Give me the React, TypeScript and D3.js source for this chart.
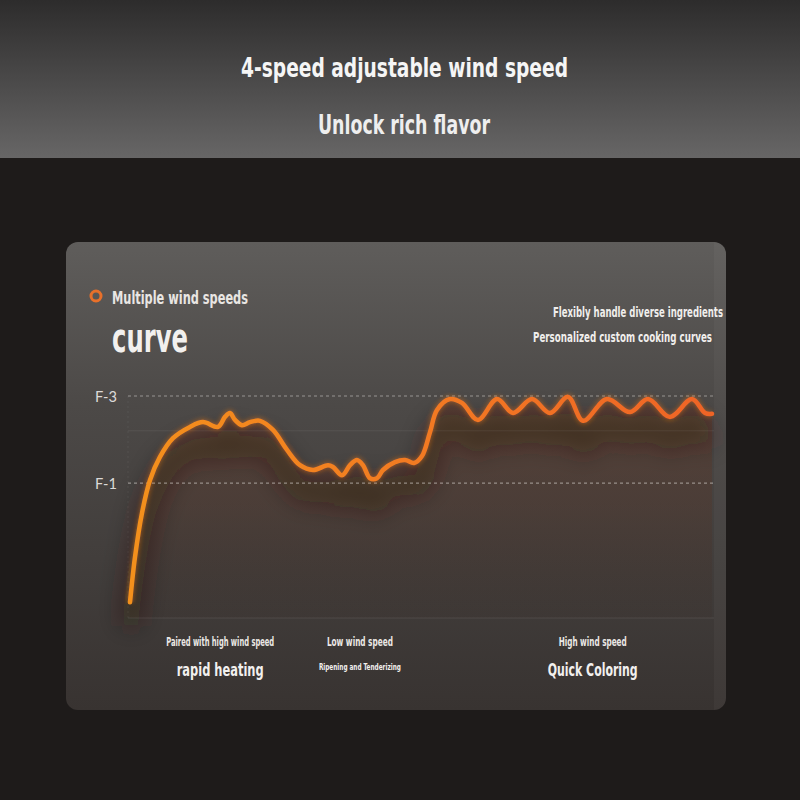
import React from "react";
import * as d3 from "d3";

// ---- data (time in % of cooking cycle, value in fan-speed level) ----
const times = [0, 0.86, 2.06, 3.44, 5.15, 7.39, 10.31, 12.54, 15.12, 16.32, 17.18, 18.04, 19.24, 20.62, 22.34, 24.57, 26.98, 29.21, 31.44, 34.02, 34.88, 36.43, 37.8, 39.0, 40.03, 41.24, 42.44, 43.47, 45.53, 47.25, 48.8, 50.17, 51.55, 52.75, 54.98, 57.04, 59.79, 63.06, 65.81, 69.07, 72.16, 75.26, 77.84, 81.96, 85.91, 89.0, 92.78, 96.56, 98.8, 100];
const levels = [-1.74, -0.7, 0.31, 1.07, 1.6, 2.03, 2.29, 2.4, 2.29, 2.52, 2.61, 2.45, 2.33, 2.4, 2.43, 2.22, 1.76, 1.41, 1.3, 1.41, 1.37, 1.18, 1.41, 1.53, 1.41, 1.11, 1.11, 1.3, 1.48, 1.53, 1.46, 1.62, 2.17, 2.68, 2.93, 2.84, 2.45, 2.93, 2.61, 2.93, 2.61, 2.98, 2.43, 2.93, 2.63, 2.93, 2.52, 2.93, 2.61, 2.59];
const tickValues = [3, 1];
const tickLabels = ["F-3", "F-1"];
const faintLevels = [2.2];
const phaseCenters = [15.5, 39.5, 79.5];
const phaseTitles = ["Paired with high wind speed", "Low wind speed", "High wind speed"];
const phaseSubtitles = ["rapid heating", "Ripening and Tenderizing", "Quick Coloring"];
const titleText = "4-speed adjustable wind speed";
const subtitleText = "Unlock rich flavor";

const FONT = "'DejaVu Sans Condensed', 'Roboto', 'DejaVu Sans', sans-serif";

export default function App() {
  const x = d3.scaleLinear().domain([0, 100]).range([130, 712]);
  const y = d3.scaleLinear().domain([-2.1, 3]).range([618, 396]);
  const data = times.map((t, i) => ({ t, v: levels[i] }));
  const line = d3.line<any>().x(d => x(d.t)).y(d => y(d.v)).curve(d3.curveCatmullRom.alpha(0.5));
  const area = d3.area<any>().x(d => x(d.t)).y0(y(-2.1)).y1(d => y(d.v)).curve(d3.curveCatmullRom.alpha(0.5));
  const path = line(data) || "";
  const areaPath = area(data) || "";

  const phaseTitleLen = [108, 66, 68];
  const phaseSubLen = [87, 82, 90];
  const phaseSubSize = [18, 9.5, 18];

  return (
    <svg width={800} height={800} style={{ position: "absolute", left: 0, top: 0 }}>
      <defs>
        <linearGradient id="hdr" x1="0" y1="0" x2="0" y2="1">
          <stop offset="0" stopColor="#2d2c2c" />
          <stop offset="1" stopColor="#676666" />
        </linearGradient>
        <linearGradient id="card" x1="0" y1="0" x2="0" y2="1">
          <stop offset="0" stopColor="#5f5d5b" />
          <stop offset="0.35" stopColor="#4c4947" />
          <stop offset="1" stopColor="#383331" />
        </linearGradient>
        <linearGradient id="areaG" x1="0" y1="0" x2="0" y2="1">
          <stop offset="0" stopColor="#5e3a2a" stopOpacity="0.55" />
          <stop offset="0.5" stopColor="#553528" stopOpacity="0.35" />
          <stop offset="1" stopColor="#3a2820" stopOpacity="0.1" />
        </linearGradient>
        <linearGradient id="lineG" x1="130" y1="0" x2="712" y2="0" gradientUnits="userSpaceOnUse">
          <stop offset="0" stopColor="#f3901c" />
          <stop offset="0.5" stopColor="#f27a22" />
          <stop offset="1" stopColor="#ef6426" />
        </linearGradient>
        <filter id="blur" x="-20%" y="-60%" width="140%" height="220%">
          <feGaussianBlur stdDeviation="12" />
        </filter>
        <filter id="glow" x="-10%" y="-30%" width="120%" height="160%">
          <feGaussianBlur stdDeviation="2" />
        </filter>
        <clipPath id="cardClip">
          <rect x={66} y={242} width={660} height={468} rx={12} />
        </clipPath>
      </defs>

      <rect x={0} y={0} width={800} height={800} fill="#1e1b1a" />
      <rect x={0} y={0} width={800} height={158} fill="url(#hdr)" />
      <text x={404.5} y={77} textAnchor="middle" fontFamily={FONT} fontSize={27} fontWeight={700} fill="#f5f5f5" textLength={327} lengthAdjust="spacingAndGlyphs">{titleText}</text>
      <text x={404} y={134} textAnchor="middle" fontFamily={FONT} fontSize={27} fontWeight={700} fill="#eeeeee" textLength={172} lengthAdjust="spacingAndGlyphs">{subtitleText}</text>

      <rect x={66} y={242} width={660} height={468} rx={12} fill="url(#card)" />
      <g clipPath="url(#cardClip)">
        <path d={areaPath} fill="url(#areaG)" />
        <path d={path} fill="none" stroke="#2a150c" strokeOpacity={0.45} strokeWidth={20} filter="url(#blur)" transform="translate(0,24)" />
        <rect x={714} y={242} width={12} height={468} fill="#ffffff" opacity={0.03} />
      </g>

      {faintLevels.map((v, i) => (
        <line key={"f" + i} x1={128} x2={714} y1={y(v)} y2={y(v)} stroke="#ffffff" strokeOpacity={0.07} />
      ))}
      <line x1={128} x2={714} y1={y(-2.1)} y2={y(-2.1)} stroke="#ffffff" strokeOpacity={0.09} />
      <line x1={128} x2={128} y1={396} y2={618} stroke="#ffffff" strokeOpacity={0.06} strokeDasharray="2,3" />
      {tickValues.map((v, i) => (
        <g key={"t" + i}>
          <line x1={128} x2={714} y1={y(v)} y2={y(v)} stroke="#d8d4d0" strokeOpacity={0.55} strokeDasharray="3,3" strokeWidth={1.2} />
          <text x={117} y={y(v) + 6} textAnchor="end" fontFamily="'Lato', 'DejaVu Sans', sans-serif" fontSize={15} fill="#dcdad8" textLength={22} lengthAdjust="spacingAndGlyphs">{tickLabels[i]}</text>
        </g>
      ))}

      <path d={path} fill="none" stroke="#ff7a20" strokeOpacity={0.35} strokeWidth={7} filter="url(#glow)" />
      <path d={path} fill="none" stroke="url(#lineG)" strokeWidth={4.5} strokeLinecap="round" strokeLinejoin="round" />

      <circle cx={96} cy={296} r={5} fill="none" stroke="#e8702a" strokeWidth={3} />
      <text x={112} y={304} fontFamily={FONT} fontSize={18} fontWeight={600} fill="#e9e6e3" textLength={136} lengthAdjust="spacingAndGlyphs">Multiple wind speeds</text>
      <text x={112} y={352} fontFamily={FONT} fontSize={40} fontWeight={700} fill="#f2f0ee" textLength={76} lengthAdjust="spacingAndGlyphs">curve</text>
      <text x={723} y={317} textAnchor="end" fontFamily={FONT} fontSize={14} fontWeight={600} fill="#f0eeec" textLength={170} lengthAdjust="spacingAndGlyphs">Flexibly handle diverse ingredients</text>
      <text x={712} y={342} textAnchor="end" fontFamily={FONT} fontSize={14} fontWeight={600} fill="#f0eeec" textLength={179} lengthAdjust="spacingAndGlyphs">Personalized custom cooking curves</text>

      {phaseCenters.map((c, i) => (
        <g key={"p" + i}>
          <text x={x(c)} y={646} textAnchor="middle" fontFamily={FONT} fontSize={12} fontWeight={600} fill="#ebe8e5" textLength={phaseTitleLen[i]} lengthAdjust="spacingAndGlyphs">{phaseTitles[i]}</text>
          <text x={x(c)} y={i === 1 ? 670 : 676} textAnchor="middle" fontFamily={FONT} fontSize={phaseSubSize[i]} fontWeight={700} fill="#f2f0ee" textLength={phaseSubLen[i]} lengthAdjust="spacingAndGlyphs">{phaseSubtitles[i]}</text>
        </g>
      ))}
    </svg>
  );
}
